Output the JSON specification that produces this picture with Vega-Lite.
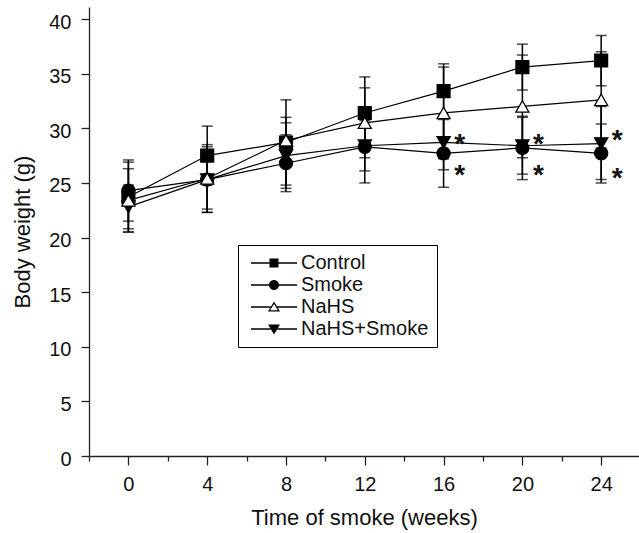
{
  "$schema": "https://vega.github.io/schema/vega-lite/v6.json",
  "width": 550,
  "height": 449,
  "autosize": "none",
  "padding": {"left": 89, "top": 7, "right": 0, "bottom": 77},
  "background": "white",
  "config": {
    "view": {"stroke": null},
    "font": "Liberation Sans",
    "axis": {
      "grid": false,
      "labelFont": "Liberation Sans",
      "titleFont": "Liberation Sans",
      "labelFontSize": 20,
      "titleFontSize": 22,
      "titleFontWeight": "normal",
      "labelColor": "#111111",
      "titleColor": "#111111",
      "domainColor": "#222222",
      "tickColor": "#222222",
      "domainWidth": 1.3,
      "tickWidth": 1.3
    },
    "legend": {
      "orient": "none",
      "legendX": 149,
      "legendY": 238,
      "labelFont": "Liberation Sans",
      "labelFontSize": 20,
      "labelColor": "#111111",
      "symbolSize": 100,
      "symbolStrokeWidth": 0,
      "symbolFillColor": "black",
      "symbolOpacity": 1,
      "strokeColor": "black",
      "padding": 8,
      "rowPadding": 2,
      "labelOffset": 35,
      "labelLimit": 300
    }
  },
  "datasets": {
    "body": [
      {"group": "Control", "week": 0, "mean": 23.7, "lo": 20.5, "hi": 26.9},
      {"group": "Control", "week": 4, "mean": 27.5, "lo": 24.8, "hi": 30.2},
      {"group": "Control", "week": 8, "mean": 28.7, "lo": 24.8, "hi": 32.6},
      {"group": "Control", "week": 12, "mean": 31.4, "lo": 28.1, "hi": 34.7},
      {"group": "Control", "week": 16, "mean": 33.4, "lo": 30.9, "hi": 35.9},
      {"group": "Control", "week": 20, "mean": 35.6, "lo": 33.5, "hi": 37.7},
      {"group": "Control", "week": 24, "mean": 36.2, "lo": 33.9, "hi": 38.5},
      {"group": "Smoke", "week": 0, "mean": 24.3, "lo": 21.5, "hi": 27.1},
      {"group": "Smoke", "week": 4, "mean": 25.3, "lo": 22.3, "hi": 28.3},
      {"group": "Smoke", "week": 8, "mean": 26.8, "lo": 24.2, "hi": 29.4},
      {"group": "Smoke", "week": 12, "mean": 28.3, "lo": 25.0, "hi": 31.6},
      {"group": "Smoke", "week": 16, "mean": 27.7, "lo": 24.6, "hi": 30.8},
      {"group": "Smoke", "week": 20, "mean": 28.2, "lo": 25.3, "hi": 31.1},
      {"group": "Smoke", "week": 24, "mean": 27.7, "lo": 25.0, "hi": 30.4},
      {"group": "NaHS+Smoke", "week": 0, "mean": 22.8, "lo": 20.8, "hi": 24.8},
      {"group": "NaHS+Smoke", "week": 4, "mean": 25.3, "lo": 22.6, "hi": 28.0},
      {"group": "NaHS+Smoke", "week": 8, "mean": 27.5, "lo": 24.5, "hi": 30.5},
      {"group": "NaHS+Smoke", "week": 12, "mean": 28.4, "lo": 26.1, "hi": 30.7},
      {"group": "NaHS+Smoke", "week": 16, "mean": 28.7, "lo": 26.2, "hi": 31.2},
      {"group": "NaHS+Smoke", "week": 20, "mean": 28.4, "lo": 25.8, "hi": 31.0},
      {"group": "NaHS+Smoke", "week": 24, "mean": 28.6, "lo": 25.3, "hi": 32.0},
      {"group": "NaHS", "week": 0, "mean": 23.4, "lo": 20.5, "hi": 26.3},
      {"group": "NaHS", "week": 4, "mean": 25.4, "lo": 22.3, "hi": 28.5},
      {"group": "NaHS", "week": 8, "mean": 28.9, "lo": 26.8, "hi": 31.0},
      {"group": "NaHS", "week": 12, "mean": 30.5, "lo": 27.3, "hi": 33.7},
      {"group": "NaHS", "week": 16, "mean": 31.4, "lo": 27.2, "hi": 35.6},
      {"group": "NaHS", "week": 20, "mean": 32.0, "lo": 27.3, "hi": 36.7},
      {"group": "NaHS", "week": 24, "mean": 32.6, "lo": 28.2, "hi": 37.0}
    ],
    "stars": [
      {"week": 16, "y": 29.2},
      {"week": 16, "y": 26.4},
      {"week": 20, "y": 29.2},
      {"week": 20, "y": 26.4},
      {"week": 24, "y": 29.55},
      {"week": 24, "y": 26.1}
    ]
  },
  "layer": [
    {
      "data": {"name": "body"},
      "mark": {"type": "rule", "color": "black", "strokeWidth": 1.5},
      "encoding": {
        "x": {
          "field": "week", "type": "quantitative",
          "scale": {"domain": [-2, 25.92], "nice": false, "zero": false},
          "axis": {
            "title": "Time of smoke (weeks)",
            "values": [-2, 0, 2, 4, 6, 8, 10, 12, 14, 16, 18, 20, 22, 24],
            "format": "d",
            "labelExpr": "datum.value % 4 === 0 && datum.value >= 0 ? datum.label : ''",
            "tickSize": {"condition": {"test": "datum.value % 4 === 0", "value": 9}, "value": 5},
            "labelPadding": 9,
            "labelFlush": false,
            "labelOverlap": false,
            "titleX": 275,
            "titleY": 68,
            "titleBaseline": "alphabetic"
          }
        },
        "y": {
          "field": "lo", "type": "quantitative",
          "scale": {"domain": [0, 41.1], "nice": false, "zero": true},
          "axis": {
            "title": "Body weight (g)",
            "values": [0, 2.5, 5, 7.5, 10, 12.5, 15, 17.5, 20, 22.5, 25, 27.5, 30, 32.5, 35, 37.5, 40],
            "format": "d",
            "labelExpr": "datum.value % 5 === 0 ? datum.label : ''",
            "tickSize": {"condition": {"test": "datum.value % 5 === 0", "value": 8}, "value": 4},
            "labelPadding": 10,
            "labelOffset": 3,
            "labelFlush": false,
            "labelOverlap": false,
            "titleX": -67,
            "titleY": 224.5,
            "titleAngle": -90,
            "titleBaseline": "middle",
            "titleAlign": "center"
          }
        },
        "y2": {"field": "hi"}
      }
    },
    {
      "data": {"name": "body"},
      "mark": {"type": "tick", "orient": "horizontal", "size": 11, "thickness": 1.5, "color": "black"},
      "encoding": {
        "x": {"field": "week", "type": "quantitative", "scale": {"domain": [-2, 25.92], "nice": false, "zero": false}},
        "y": {"field": "lo", "type": "quantitative", "scale": {"domain": [0, 41.1], "nice": false}}
      }
    },
    {
      "data": {"name": "body"},
      "mark": {"type": "tick", "orient": "horizontal", "size": 11, "thickness": 1.5, "color": "black"},
      "encoding": {
        "x": {"field": "week", "type": "quantitative", "scale": {"domain": [-2, 25.92], "nice": false, "zero": false}},
        "y": {"field": "hi", "type": "quantitative", "scale": {"domain": [0, 41.1], "nice": false}}
      }
    },
    {
      "data": {"name": "body"},
      "mark": {"type": "line", "color": "black", "strokeWidth": 1.2},
      "encoding": {
        "x": {"field": "week", "type": "quantitative", "scale": {"domain": [-2, 25.92], "nice": false, "zero": false}},
        "y": {"field": "mean", "type": "quantitative", "scale": {"domain": [0, 41.1], "nice": false}},
        "detail": {"field": "group"}
      }
    },
    {
      "data": {"name": "body"},
      "mark": {"type": "point", "filled": true, "stroke": "black", "strokeWidth": 1.3, "opacity": 1},
      "encoding": {
        "x": {"field": "week", "type": "quantitative", "scale": {"domain": [-2, 25.92], "nice": false, "zero": false}},
        "y": {"field": "mean", "type": "quantitative", "scale": {"domain": [0, 41.1], "nice": false}},
        "shape": {
          "field": "group", "type": "nominal",
          "scale": {"domain": ["Control", "Smoke", "NaHS", "NaHS+Smoke"], "range": ["square", "circle", "triangle-up", "triangle-down"]},
          "legend": null
        },
        "fill": {
          "field": "group", "type": "nominal",
          "scale": {"domain": ["Control", "Smoke", "NaHS", "NaHS+Smoke"], "range": ["black", "black", "white", "black"]},
          "legend": null
        },
        "size": {
          "field": "group", "type": "nominal",
          "scale": {"domain": ["Control", "Smoke", "NaHS", "NaHS+Smoke"], "range": [165, 175, 290, 290]},
          "legend": null
        }
      }
    },
    {
      "data": {"name": "body"},
      "transform": [{"filter": "datum.week < -100"}],
      "mark": {"type": "point", "filled": true, "color": "black"},
      "encoding": {
        "shape": {
          "field": "group", "type": "nominal",
          "scale": {
            "domain": ["Control", "Smoke", "NaHS", "NaHS+Smoke"],
            "range": [
              "M-1,-0.13H2.7V0.13H-1Z M4.5,-0.13H8.2V0.13H4.5Z M2.7,-0.9H4.5V0.9H2.7Z",
              "M-1,-0.13H2.6V0.13H-1Z M4.6,-0.13H8.2V0.13H4.6Z M2.6,0A1,1 0 1,1 4.6,0A1,1 0 1,1 2.6,0Z",
              "M-1,-0.13H2.94V0.13H-1Z M4.26,-0.13H8.2V0.13H4.26Z M3.6,-1.1L4.8,0.9L2.4,0.9Z M3.6,-0.62L2.83,0.66L4.37,0.66Z",
              "M-1,-0.13H2.94V0.13H-1Z M4.26,-0.13H8.2V0.13H4.26Z M3.6,1.1L2.4,-0.9L4.8,-0.9Z"
            ]
          },
          "legend": {"title": null}
        }
      }
    },
    {
      "data": {"name": "stars"},
      "mark": {"type": "text", "text": "*", "fontSize": 28, "fontWeight": "bold", "dx": 16, "dy": 16, "baseline": "alphabetic", "align": "center", "color": "#111111"},
      "encoding": {
        "x": {"field": "week", "type": "quantitative", "scale": {"domain": [-2, 25.92], "nice": false, "zero": false}},
        "y": {"field": "y", "type": "quantitative", "scale": {"domain": [0, 41.1], "nice": false}}
      }
    }
  ],
  "resolve": {"scale": {"shape": "independent"}}
}
